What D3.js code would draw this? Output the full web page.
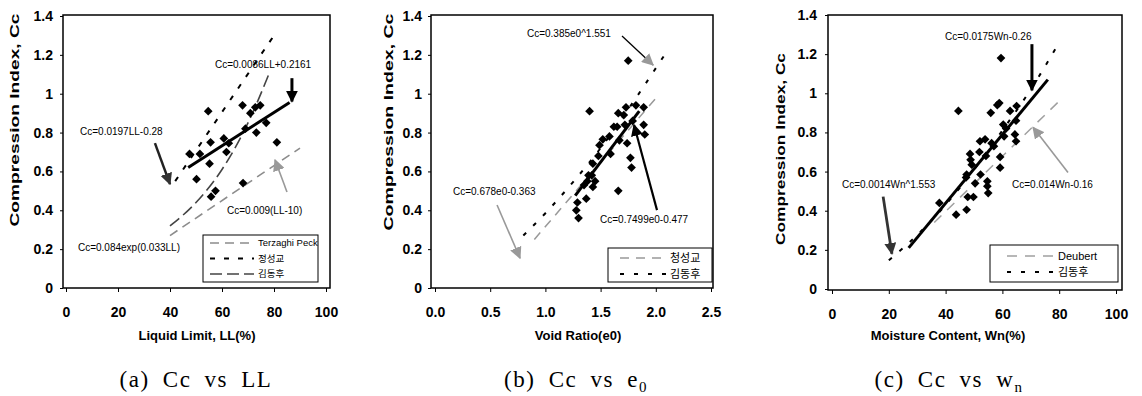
<!DOCTYPE html>
<html>
<head>
<meta charset="utf-8">
<script src="https://cdn.jsdelivr.net/npm/d3@7"></script>
<style>
  body { margin: 0; background: #fff; }
  svg { display: block; }
  text { font-family: "Liberation Sans", Arial, "Noto Sans CJK KR", sans-serif; }
</style>
</head>
<body>
<div id="chart"></div>
<script>
// ---------- values ----------
var yTicks   = [0, 0.2, 0.4, 0.6, 0.8, 1, 1.2, 1.4];
var llTicks  = [0, 20, 40, 60, 80, 100];
var e0Ticks  = [0, 0.5, 1, 1.5, 2, 2.5];
var wnTicks  = [0, 20, 40, 60, 80, 100];

// (a) Cc vs LL
var llPoints = [[54.7,0.91],[67.9,0.94],[74.7,0.94],[72.8,0.93],[70.9,0.90],[77,0.85],[69,0.82],
  [73.2,0.80],[81.1,0.75],[55.6,0.75],[60.7,0.77],[62.6,0.745],[61.7,0.70],[47.5,0.69],[51.5,0.69],
  [55.2,0.64],[50.2,0.56],[68.1,0.54],[57.5,0.50],[55.8,0.47]];
var llTrend     = [[47,0.62],[86,0.955]];                 // Cc=0.0086LL+0.2161
var llTerzaghi  = [[40,0.27],[90,0.72]];                  // Cc=0.009(LL-10)
var llJung      = [[42,0.55],[80,1.30]];                  // Cc=0.0197LL-0.28
var llKim       = [[40,0.32],[50,0.44],[60,0.61],[70,0.85],[78,1.10]]; // Cc=0.084exp(0.033LL)

// (b) Cc vs e0
var e0Points = [[1.75,1.17],[1.40,0.91],[1.73,0.93],[1.82,0.94],[1.66,0.90],[1.89,0.93],[1.71,0.89],
  [1.79,0.86],[1.89,0.84],[1.90,0.79],[1.62,0.83],[1.65,0.83],[1.72,0.84],[1.58,0.78],[1.52,0.765],
  [1.49,0.735],[1.67,0.76],[1.74,0.745],[1.48,0.68],[1.59,0.69],[1.43,0.64],[1.77,0.67],[1.78,0.62],
  [1.66,0.50],[1.39,0.58],[1.42,0.58],[1.38,0.55],[1.45,0.55],[1.35,0.53],[1.43,0.52],[1.37,0.46],
  [1.29,0.44],[1.28,0.40],[1.30,0.36]];
var e0Trend = [[1.27,0.475],[1.85,0.91]];                 // Cc=0.7499e0-0.477
var e0Jung  = [[0.9,0.25],[2.02,0.99]];                   // Cc=0.678e0-0.363
var e0Kim   = [[0.8,0.27],[1.0,0.385],[1.25,0.545],[1.5,0.72],[1.75,0.92],[2.08,1.20]]; // Cc=0.385e0^1.551

// (c) Cc vs Wn
var wnPoints = [[59.5,1.18],[44.5,0.91],[58.9,0.95],[58.2,0.94],[55.9,0.90],[62.7,0.91],[65,0.935],
  [64.8,0.86],[60.3,0.84],[61.3,0.82],[60.6,0.78],[64.4,0.79],[64.8,0.755],[53.9,0.765],[52.1,0.755],
  [56.2,0.745],[57,0.73],[51.9,0.70],[48.6,0.69],[48.8,0.66],[54.2,0.68],[59.2,0.675],[59.2,0.62],
  [49.2,0.635],[47.4,0.585],[47.2,0.57],[52.3,0.585],[50.4,0.54],[54.7,0.55],[54.7,0.525],[55,0.49],
  [47.8,0.47],[49.8,0.47],[47.4,0.405],[43.7,0.38],[37.8,0.44]];
var wnTrend   = [[27,0.21],[76,1.07]];                    // Cc=0.0175Wn-0.26
var wnDeubert = [[36,0.34],[80,0.96]];                    // Cc=0.014Wn-0.16
var wnKim     = [[20,0.147],[30,0.276],[40,0.43],[50,0.61],[60,0.81],[70,1.02],[80,1.26]]; // Cc=0.0014Wn^1.553

// ---------- styles ----------
var styles = {
  trend:    {stroke: "#000",    width: 3,   dash: null},
  terzaghi: {stroke: "#8c8c8c", width: 1.6, dash: "9,6"},
  jungA:    {stroke: "#000",    width: 2,   dash: "5,9"},
  kimA:     {stroke: "#444",    width: 1.6, dash: "12,5"},
  jungB:    {stroke: "#999",    width: 1.5, dash: "9,7"},
  kimB:     {stroke: "#000",    width: 2,   dash: "4,10"},
  deubert:  {stroke: "#a0a0a0", width: 1.5, dash: "10,8"},
  kimC:     {stroke: "#000",    width: 2,   dash: "4,10"}
};

var W = 1142, H = 396;
var svg = d3.select("#chart").append("svg").attr("width", W).attr("height", H);

// arrow heads
var defs = svg.append("defs");
[["ah-black", "#000"], ["ah-dark", "#333"], ["ah-gray", "#999"]].forEach(function (m) {
  defs.append("marker")
    .attr("id", m[0])
    .attr("viewBox", "0 0 10 10")
    .attr("refX", 9).attr("refY", 5)
    .attr("markerUnits", "userSpaceOnUse")
    .attr("markerWidth", 12).attr("markerHeight", 12)
    .attr("orient", "auto")
    .append("path").attr("d", "M0,0 L10,5 L0,10 Z").attr("fill", m[1]);
});

var panels = [
  {
    xDomain: [0, 100], xRange: [66, 326], frame: [63, 15, 330, 288], yRange: [288, 16],
    xTicks: llTicks, xFmt: d3.format("d"), yPad: 7,
    yTitle: {x: 15, y: 120, len: 213},
    xTitle: {x: 197, text: "Liquid Limit, LL(%)"},
    caption: {x: 196, parts: [["(a) Cc vs LL", null]]},
    points: llPoints,
    lines: [[llTerzaghi, "terzaghi"], [llJung, "jungA"], [llKim, "kimA"], [llTrend, "trend"]],
    notes: [
      {t: "Cc=0.0086LL+0.2161", x: 57.3, y: 1.13},
      {t: "Cc=0.0197LL-0.28", x: 5.4, y: 0.787},
      {t: "Cc=0.009(LL-10)", x: 61.9, y: 0.381},
      {t: "Cc=0.084exp(0.033LL)", x: 4.6, y: 0.19}
    ],
    arrows: [
      {x1: 86.9, y1: 1.08, x2: 86.9, y2: 0.96, c: "#000", w: 3, m: "ah-black"},
      {x1: 34.2, y1: 0.746, x2: 40, y2: 0.535, c: "#222", w: 2.5, m: "ah-dark"},
      {x1: 85, y1: 0.494, x2: 80.4, y2: 0.659, c: "#999", w: 1.6, m: "ah-gray"}
    ],
    legend: {box: [203, 235, 318, 282], sx: 210, tx: 258, fs: 9.5,
      rows: [[243, "Terzaghi Peck", "terzaghi"], [258.5, "정성교", "jungA"], [274, "김동후", "kimA"]]}
  },
  {
    xDomain: [0, 2.5], xRange: [435, 711], frame: [431, 15, 713, 288], yRange: [288, 16],
    xTicks: e0Ticks, xFmt: d3.format(".1f"), yPad: 6,
    yTitle: {x: 389, y: 122, len: 217},
    xTitle: {x: 578, text: "Void Ratio(e0)"},
    caption: {x: 576, parts: [["(b) Cc vs e", null], ["0", "sub"]]},
    points: e0Points,
    lines: [[e0Jung, "jungB"], [e0Kim, "kimB"], [e0Trend, "trend"]],
    notes: [
      {t: "Cc=0.385e0^1.551", x: 0.833, y: 1.294},
      {t: "Cc=0.678e0-0.363", x: 0.163, y: 0.479},
      {t: "Cc=0.7499e0-0.477", x: 1.495, y: 0.335}
    ],
    arrows: [
      {x1: 1.694, y1: 1.297, x2: 1.975, y2: 1.148, c: "#000", w: 1.3, m: "ah-gray"},
      {x1: 0.562, y1: 0.427, x2: 0.77, y2: 0.154, c: "#999", w: 1.6, m: "ah-gray"},
      {x1: 2.011, y1: 0.401, x2: 1.803, y2: 0.839, c: "#000", w: 2.2, m: "ah-black"}
    ],
    legend: {box: [608, 248, 712, 282], sx: 620, tx: 670, fs: 11,
      rows: [[258, "청성교", "jungB"], [274, "김동후", "kimB"]]}
  },
  {
    xDomain: [0, 100], xRange: [832, 1116], frame: [828, 15, 1122, 290], yRange: [289, 15],
    xTicks: wnTicks, xFmt: d3.format("d"), yPad: 8,
    yTitle: {x: 781, y: 149, len: 192},
    xTitle: {x: 948, text: "Moisture Content, Wn(%)"},
    caption: {x: 949, parts: [["(c) Cc vs w", null], ["n", "sub"]]},
    points: wnPoints,
    lines: [[wnDeubert, "deubert"], [wnKim, "kimC"], [wnTrend, "trend"]],
    notes: [
      {t: "Cc=0.0175Wn-0.26", x: 39.8, y: 1.274},
      {t: "Cc=0.0014Wn^1.553", x: 3.5, y: 0.515},
      {t: "Cc=0.014Wn-0.16", x: 63.4, y: 0.515}
    ],
    arrows: [
      {x1: 70.4, y1: 1.251, x2: 70.4, y2: 1.015, c: "#000", w: 3, m: "ah-black"},
      {x1: 18, y1: 0.472, x2: 21.1, y2: 0.18, c: "#333", w: 2.8, m: "ah-dark"},
      {x1: 83.1, y1: 0.595, x2: 70.8, y2: 0.826, c: "#999", w: 1.6, m: "ah-gray"}
    ],
    legend: {box: [990, 245, 1118, 282], sx: 1007, tx: 1058, fs: 11,
      rows: [[256, "Deubert", "deubert"], [272, "김동후", "kimC"]]}
  }
];

function drawPanel(p) {
  var x = d3.scaleLinear().domain(p.xDomain).range(p.xRange);
  var y = d3.scaleLinear().domain([0, 1.4]).range(p.yRange);
  var g = svg.append("g");
  var f = p.frame;

  // axes
  var xa = g.append("g")
    .attr("transform", "translate(0," + f[3] + ")")
    .call(d3.axisBottom(x).tickValues(p.xTicks).tickFormat(p.xFmt).tickSize(4).tickPadding(15));
  xa.select(".domain").remove();
  xa.selectAll("text").style("font-size", "14px").style("font-weight", "bold").attr("fill", "#000");

  var ya = g.append("g")
    .attr("transform", "translate(" + f[0] + ",0)")
    .call(d3.axisLeft(y).tickValues(yTicks).tickFormat(d3.format("")).tickSize(3).tickPadding(p.yPad));
  ya.select(".domain").remove();
  ya.selectAll("text").style("font-size", "14px").style("font-weight", "bold").attr("fill", "#000");

  // frame
  g.append("rect")
    .attr("x", f[0]).attr("y", f[1])
    .attr("width", f[2] - f[0]).attr("height", f[3] - f[1])
    .attr("fill", "none").attr("stroke", "#000").attr("stroke-width", 1.5);

  // lines
  var line = d3.line().x(function (d) { return x(d[0]); }).y(function (d) { return y(d[1]); })
    .curve(d3.curveMonotoneX);
  p.lines.forEach(function (l) {
    var s = styles[l[1]];
    g.append("path").datum(l[0])
      .attr("d", line)
      .attr("fill", "none")
      .attr("stroke", s.stroke)
      .attr("stroke-width", s.width)
      .attr("stroke-dasharray", s.dash);
  });

  // diamonds
  g.selectAll("path.pt")
    .data(p.points)
    .join("path")
    .attr("class", "pt")
    .attr("d", d3.symbol(d3.symbolSquare, 38))
    .attr("transform", function (d) { return "translate(" + x(d[0]) + "," + y(d[1]) + ") rotate(45)"; })
    .attr("fill", "#000");

  // equations and arrows
  p.notes.forEach(function (n) {
    g.append("text").attr("x", x(n.x)).attr("y", y(n.y))
      .style("font-size", "10px").text(n.t);
  });
  p.arrows.forEach(function (a) {
    g.append("line")
      .attr("x1", x(a.x1)).attr("y1", y(a.y1))
      .attr("x2", x(a.x2)).attr("y2", y(a.y2))
      .attr("stroke", a.c).attr("stroke-width", a.w)
      .attr("marker-end", "url(#" + a.m + ")");
  });

  // legend
  var L = p.legend;
  g.append("rect")
    .attr("x", L.box[0]).attr("y", L.box[1])
    .attr("width", L.box[2] - L.box[0]).attr("height", L.box[3] - L.box[1])
    .attr("fill", "#fff").attr("stroke", "#000").attr("stroke-width", 1);
  L.rows.forEach(function (r) {
    var s = styles[r[2]];
    g.append("line")
      .attr("x1", L.sx).attr("x2", L.tx - 4).attr("y1", r[0]).attr("y2", r[0])
      .attr("stroke", s.stroke).attr("stroke-width", Math.min(s.width, 2))
      .attr("stroke-dasharray", s.dash);
    g.append("text").attr("x", L.tx).attr("y", r[0]).attr("dy", "0.35em")
      .style("font-size", L.fs + "px").text(r[1]);
  });

  // titles
  g.append("text")
    .attr("transform", "translate(" + p.yTitle.x + "," + p.yTitle.y + ") rotate(-90)")
    .attr("text-anchor", "middle").attr("dy", "0.35em")
    .attr("textLength", p.yTitle.len).attr("lengthAdjust", "spacingAndGlyphs")
    .style("font-size", "12.5px").style("font-weight", "bold")
    .text("Compression Index, Cc");

  g.append("text")
    .attr("x", p.xTitle.x).attr("y", 340)
    .attr("text-anchor", "middle")
    .style("font-size", "13px").style("font-weight", "bold")
    .text(p.xTitle.text);

  var cap = g.append("text")
    .attr("x", p.caption.x).attr("y", 387)
    .attr("text-anchor", "middle")
    .style("font-family", "'Liberation Serif', 'DejaVu Serif', serif")
    .style("font-size", "23px")
    .style("letter-spacing", "1.5px")
    .style("word-spacing", "6px");
  p.caption.parts.forEach(function (pt) {
    var ts = cap.append("tspan").text(pt[0]);
    if (pt[1] === "sub") ts.attr("dy", "5").style("font-size", "15px");
  });
}

panels.forEach(drawPanel);
</script>
</body>
</html>
